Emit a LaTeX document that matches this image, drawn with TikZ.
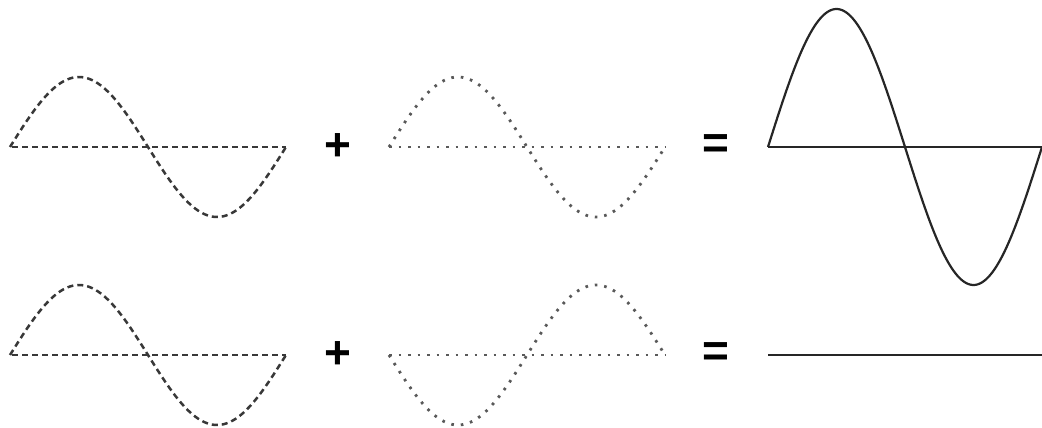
\documentclass[tikz,border=0pt]{standalone}
\usepackage{fontspec}
\setmainfont{Liberation Sans}
\begin{document}
\begin{tikzpicture}[x=1pt,y=-1pt,
  dashwave/.style={line width=2.5pt,black!78,dash pattern=on 6pt off 4pt},
  dotwave/.style={line width=2.8pt,black!65,dash pattern=on 2.6pt off 6.9pt},
  solidwave/.style={line width=2.2pt,black!85},
  opsign/.style={font=\fontsize{46}{46}\selectfont\bfseries,inner sep=0pt,text=black}]
\useasboundingbox (0,0) rectangle (1042,428);
% top row
\draw[dashwave] plot[domain=0:360,samples=120] ({10+\x/360*276},{147-70*sin(\x)});
\draw[dashwave] (12,147) -- (286,147);
\node[opsign] (plus1) at (338,147) {+};
\draw[dotwave] plot[domain=0:360,samples=120] ({389+\x/360*276},{147-70*sin(\x)});
\draw[dotwave] (389,147) -- (665,147);
\node[opsign] (eq1) at (716,147) {=};
\draw[solidwave] plot[domain=0:360,samples=150] ({768+\x/360*274},{147-138*sin(\x)});
\draw[solidwave] (768,147) -- (1042,147);
% bottom row
\draw[dashwave] plot[domain=0:360,samples=120] ({10+\x/360*276},{355-70*sin(\x)});
\draw[dashwave] (12,355) -- (286,355);
\node[opsign] (plus2) at (338,355) {+};
\draw[dotwave] plot[domain=0:360,samples=120] ({389+\x/360*276},{355+70*sin(\x)});
\draw[dotwave] (389,355) -- (665,355);
\node[opsign] (eq2) at (716,355) {=};
\draw[solidwave] (768,355) -- (1042,355);
\end{tikzpicture}
\end{document}
